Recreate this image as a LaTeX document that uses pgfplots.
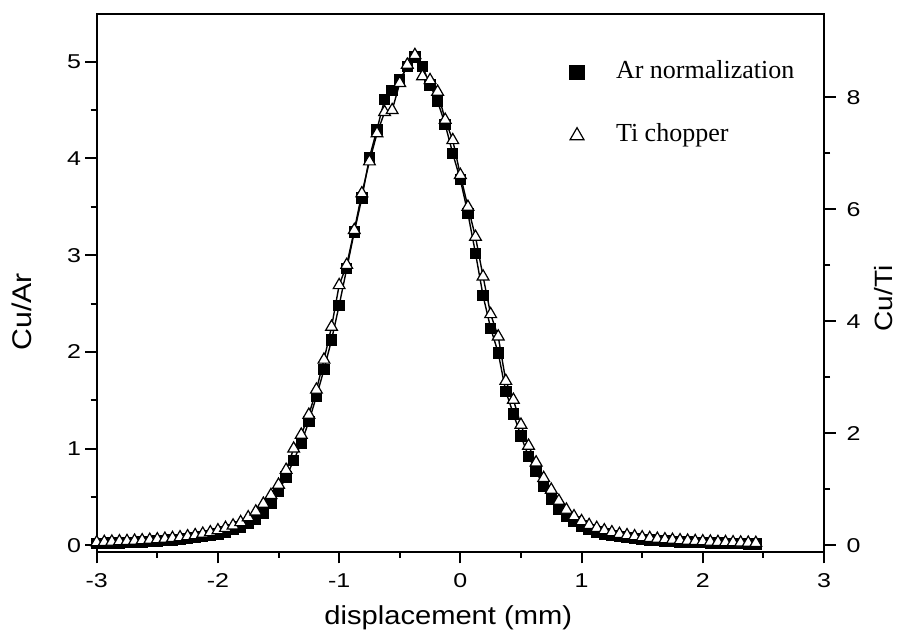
\documentclass[border=0pt]{standalone}
\usepackage{fontspec}
\setmainfont{Liberation Serif}
\newfontfamily\arialx{Liberation Sans}[FakeStretch=1.12]
\newfontfamily\arialw{Liberation Sans}[FakeStretch=1.25]
\usepackage{pgfplots}
\usepackage{pgfplotstable}
\pgfplotsset{compat=1.18}

% Ar normalization (Cu/Ar, left axis)
\pgfplotstableread{
x y
-3.0 0.020
-2.9375 0.022
-2.875 0.025
-2.8125 0.027
-2.75 0.030
-2.6875 0.033
-2.625 0.037
-2.5625 0.041
-2.5 0.046
-2.4375 0.051
-2.375 0.057
-2.3125 0.064
-2.25 0.072
-2.1875 0.081
-2.125 0.092
-2.0625 0.105
-2.0 0.120
-1.9375 0.140
-1.875 0.162
-1.8125 0.190
-1.75 0.225
-1.6875 0.270
-1.625 0.330
-1.5625 0.440
-1.5 0.560
-1.4375 0.707
-1.375 0.878
-1.3125 1.058
-1.25 1.280
-1.1875 1.540
-1.125 1.816
-1.0625 2.125
-1.0 2.480
-0.9375 2.860
-0.875 3.240
-0.8125 3.590
-0.75 4.010
-0.6875 4.300
-0.625 4.610
-0.5625 4.700
-0.5 4.810
-0.4375 4.950
-0.375 5.050
-0.3125 4.950
-0.25 4.760
-0.1875 4.590
-0.125 4.350
-0.0625 4.050
0.0 3.780
0.0625 3.430
0.125 3.020
0.1875 2.580
0.25 2.245
0.3125 1.990
0.375 1.590
0.4375 1.360
0.5 1.130
0.5625 0.920
0.625 0.765
0.6875 0.610
0.75 0.480
0.8125 0.376
0.875 0.300
0.9375 0.245
1.0 0.200
1.0625 0.165
1.125 0.140
1.1875 0.120
1.25 0.105
1.3125 0.090
1.375 0.080
1.4375 0.070
1.5 0.062
1.5625 0.055
1.625 0.050
1.6875 0.045
1.75 0.041
1.8125 0.037
1.875 0.034
1.9375 0.031
2.0 0.028
2.0625 0.026
2.125 0.024
2.1875 0.022
2.25 0.020
2.3125 0.018
2.375 0.016
2.4375 0.014
}\arnorm

% Ti chopper (Cu/Ti, right axis)
\pgfplotstableread{
x y
-3.0 0.055
-2.9375 0.060
-2.875 0.066
-2.8125 0.071
-2.75 0.076
-2.6875 0.083
-2.625 0.090
-2.5625 0.098
-2.5 0.107
-2.4375 0.117
-2.375 0.130
-2.3125 0.143
-2.25 0.161
-2.1875 0.181
-2.125 0.207
-2.0625 0.233
-2.0 0.268
-1.9375 0.311
-1.875 0.354
-1.8125 0.414
-1.75 0.501
-1.6875 0.604
-1.625 0.743
-1.5625 0.898
-1.5 1.083
-1.4375 1.347
-1.375 1.727
-1.3125 1.976
-1.25 2.331
-1.1875 2.780
-1.125 3.316
-1.0625 3.903
-1.0 4.646
-0.9375 5.008
-0.875 5.630
-0.8125 6.286
-0.75 6.856
-0.6875 7.357
-0.625 7.737
-0.5625 7.772
-0.5 8.255
-0.4375 8.583
-0.375 8.756
-0.3125 8.376
-0.25 8.307
-0.1875 8.100
-0.125 7.599
-0.0625 7.236
0.0 6.614
0.0625 6.045
0.125 5.509
0.1875 4.801
0.25 4.128
0.3125 3.730
0.375 2.936
0.4375 2.599
0.5 2.154
0.5625 1.779
0.625 1.480
0.6875 1.202
0.75 0.993
0.8125 0.794
0.875 0.637
0.9375 0.518
1.0 0.432
1.0625 0.363
1.125 0.311
1.1875 0.268
1.25 0.233
1.3125 0.204
1.375 0.180
1.4375 0.161
1.5 0.143
1.5625 0.130
1.625 0.117
1.6875 0.107
1.75 0.098
1.8125 0.090
1.875 0.083
1.9375 0.076
2.0 0.071
2.0625 0.066
2.125 0.060
2.1875 0.057
2.25 0.054
2.3125 0.050
2.375 0.047
2.4375 0.043
}\tichop

\pgfplotsset{
  common/.style={
    scale only axis, width=363.65pt, height=269pt,
    xmin=-3, xmax=3, clip=false,
    tick align=outside,
    major tick length=5.8pt, minor tick length=3pt,
    every tick/.style={black, line width=1pt},
    axis line style={line width=1pt},
    /pgf/number format/assume math mode=true,
    every tick label/.style={font=\arialw\fontsize{10}{12}\selectfont},
  }
}

\begin{document}
\begin{tikzpicture}
\begin{axis}[common, name=main,
  ymin=-0.065, ymax=5.4956,
  xtick={-3,-2,-1,0,1,2,3}, ytick={0,1,2,3,4,5},
  minor x tick num=1, minor y tick num=1,
  xtick pos=bottom, ytick pos=left,
  xticklabel style={yshift=-1.5pt},
  yticklabel style={xshift=1.5pt},
  xlabel={displacement (mm)}, ylabel={Cu/Ar},
  xlabel style={at={(axis description cs:0.4834,-0.135)}, anchor=base, font=\arialx\fontsize{13}{15}\selectfont},
  ylabel style={at={(axis description cs:-0.1027,0.446)}, anchor=center, font=\arialx\fontsize{13.5}{16}\selectfont},
  legend cell align=left,
  legend style={draw=none, fill=none, inner sep=0pt, outer sep=0pt,
    at={(axis description cs:0.6508,0.9134)}, anchor=north west,
    row sep=19.7pt, font=\fontsize{13}{15}\selectfont,
    nodes={inner sep=0pt, text height=9pt, text depth=3pt},
    /tikz/every odd column/.append style={column sep=16pt}},
]
\addplot[black, line width=0.7pt, mark=square*, mark size=2.5pt,
  mark options={solid, fill=black},
  legend image code/.code={\draw[black, only marks, mark=square*, mark size=3.5pt, mark options={fill=black}] plot coordinates {(0pt,0pt)};}]
  table[x=x, y=y]{\arnorm};
\addlegendentry{Ar normalization}
\addlegendimage{legend image code/.code={\draw[black, only marks, mark=triangle*, mark size=4pt, mark options={fill=white, line width=0.6pt}] plot coordinates {(0pt,0pt)};}}
\addlegendentry{Ti chopper}
\end{axis}

\begin{axis}[common, at={(main.south west)}, anchor=south west,
  ymin=-0.1125, ymax=9.495,
  axis x line=none, axis y line*=right,
  ytick={0,2,4,6,8}, minor y tick num=1,
  yticklabel style={xshift=2pt},
  ylabel={Cu/Ti},
  ylabel style={at={(axis description cs:1.082,0.471)}, anchor=center, font=\arialx\fontsize{12.5}{14}\selectfont},
]
\addplot[black, line width=0.7pt, mark=triangle*, mark size=3.4pt,
  mark options={solid, fill=white, line width=0.6pt}]
  table[x=x, y=y]{\tichop};
\end{axis}

\pgfresetboundingbox
\path ([shift={(-48.35pt,-41.15pt)}]main.south west) rectangle ([shift={(38pt,6.85pt)}]main.north east);
\end{tikzpicture}
\end{document}
